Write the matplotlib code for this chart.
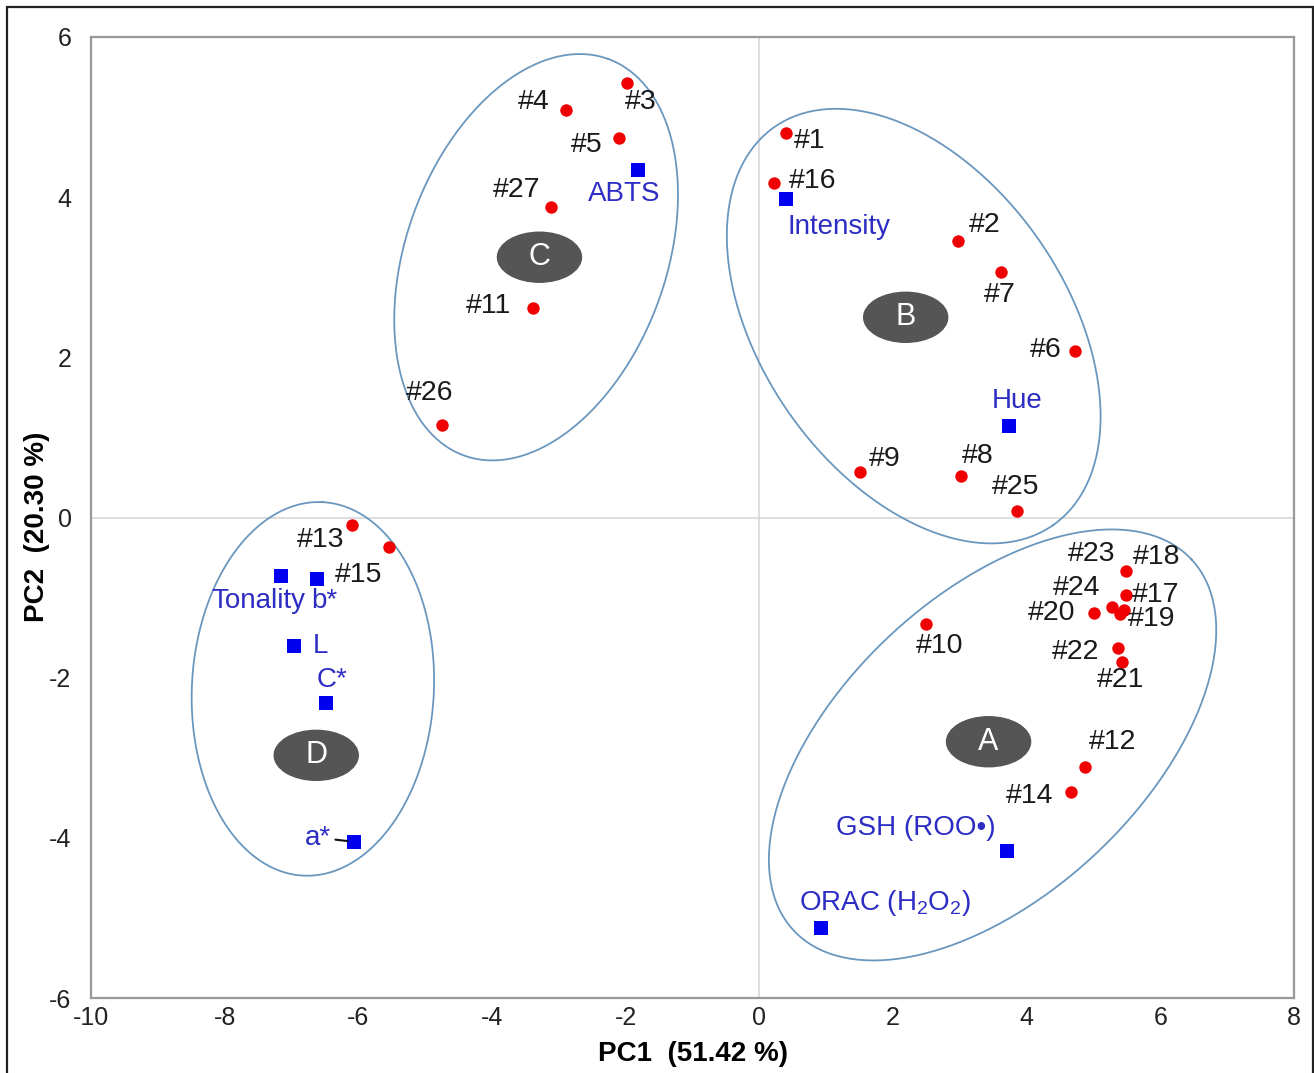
import numpy as np
import matplotlib
matplotlib.use("Agg")
import matplotlib.pyplot as plt
from matplotlib.patches import Ellipse, Rectangle

plt.rcParams['font.family'] = ['Liberation Sans', 'DejaVu Sans']
plt.rcParams['mathtext.fontset'] = 'custom'
plt.rcParams['mathtext.rm'] = 'Liberation Sans'
plt.rcParams['mathtext.it'] = 'Liberation Sans:italic'
plt.rcParams['axes.unicode_minus'] = False

# samples (red circles): PC1, PC2, label offset (points)
samples = ["#1", "#16", "#2", "#7", "#6", "#9", "#8", "#25",
           "#3", "#4", "#5", "#27", "#11", "#26",
           "#13", "#15",
           "#10", "#18", "#23", "#17", "#24", "#20", "#19", "#22", "#21", "#12", "#14"]
pc1 = [0.40, 0.22, 2.98, 3.62, 4.72, 1.50, 3.02, 3.85,
       -1.98, -2.90, -2.10, -3.11, -3.38, -4.75,
       -6.09, -5.54,
       2.49, 5.48, 5.45, 5.49, 5.27, 5.00, 5.39, 5.36, 5.42, 4.87, 4.67]
pc2 = [4.80, 4.18, 3.45, 3.07, 2.08, 0.57, 0.52, 0.08,
       5.43, 5.09, 4.74, 3.88, 2.62, 1.16,
       -0.09, -0.37,
       -1.33, -0.67, -1.15, -0.97, -1.12, -1.19, -1.20, -1.63, -1.80, -3.11, -3.43]
sample_off = [(17, -6), (28, 1), (19, 12), (-1, -17), (-21, 1), (18, 9), (12, 14), (-1, 17),
              (10, -14), (-23, 6), (-23, -5), (-25, 12), (-32, 1), (-9, 23),
              (-23, -11), (-22, -20),
              (10, -16), (22, 10), (-23, 40), (21, 0), (-25, 14), (-30, 0), (23, -4), (-30, -3), (-1, -13), (20, 18), (-30, -3)]

# variables (blue squares)
variables = ["ABTS", "Intensity", "Hue", "Tonality", "b*", "L", "C*", "a*",
             "GSH (ROO\u2022)", r"ORAC (H$_2$O$_2$)"]
var1 = [-1.81, 0.40, 3.74, -7.16, -6.62, -6.96, -6.48, -6.06, 3.71, 0.93]
var2 = [4.34, 3.98, 1.14, -0.73, -0.77, -1.60, -2.32, -4.05, -4.16, -5.13]
var_off = [(-10, -17), (38, -20), (6, 18), (-16, -18), (5, -16), (19, 0), (4, 17), (-26, 3),
           (-66, 16), (46, 18)]

# group ellipses: centre (data), semi-axes (px), screen angle
groups = ["A", "B", "C", "D"]
grp_center = [(3.49, -2.84), (2.31, 2.39), (-3.34, 3.25), (-6.68, -2.14)]
grp_axes = [(272, 150), (243, 152), (211, 130), (187, 121)]
grp_angle = [43, -55, 70, 87]
badge_pos = [(3.43, -2.80), (2.19, 2.50), (-3.29, 3.25), (-6.63, -2.97)]

W, H = 1314, 1073
fig = plt.figure(figsize=(W / 100, H / 100), dpi=100)
fig.patches.append(Rectangle((7 / W, -0.01), (1313 - 7) / W, 1 - 7 / H + 0.01,
                             transform=fig.transFigure, fill=False, ec='#222222', lw=1.6))
ax = fig.add_axes([91 / W, (H - 998) / H, (1294 - 91) / W, (998 - 37) / H])

ax.set_xlim(-10, 8)
ax.set_ylim(-6, 6)
ax.set_xticks(np.arange(-10, 9, 2))
ax.set_yticks(np.arange(-6, 7, 2))
ax.tick_params(length=0, labelsize=18, colors='#222222')
ax.tick_params(axis='y', pad=14)
ax.tick_params(axis='x', pad=6)
for s in ax.spines.values():
    s.set_color('#999999')
    s.set_linewidth(1.6)
ax.axhline(0, color='#d4d4d4', lw=1.1, zorder=0)
ax.axvline(0, color='#d4d4d4', lw=1.1, zorder=0)

ax.set_xlabel("PC1  (51.42 %)", fontsize=20, fontweight='bold', labelpad=8)
ax.set_ylabel("PC2  (20.30 %)", fontsize=20, fontweight='bold')
ax.yaxis.set_label_coords(-0.034, 0.49)

# ellipse outlines built in screen space
t = np.linspace(0, 2 * np.pi, 300)
inv = ax.transData.inverted()
for (cx, cy), (a, b), ang in zip(grp_center, grp_axes, grp_angle):
    c = ax.transData.transform((cx, cy))
    th = np.deg2rad(ang)
    px = c[0] + a * np.cos(t) * np.cos(th) - b * np.sin(t) * np.sin(th)
    py = c[1] + a * np.cos(t) * np.sin(th) + b * np.sin(t) * np.cos(th)
    d = inv.transform(np.column_stack([px, py]))
    ax.plot(d[:, 0], d[:, 1], color='#6a97be', lw=1.3, zorder=1)

for g, (bx, by) in zip(groups, badge_pos):
    ax.add_patch(Ellipse((bx, by), 84 / 66.8, 50 / 80.1, color='#555555', zorder=3))
    ax.text(bx, by, g, color='white', fontsize=22, ha='center', va='center', zorder=4)

ax.scatter(pc1, pc2, s=80, color='#f00000', zorder=5, linewidths=0)
ax.scatter(var1, var2, s=90, marker='s', color='#0000ee', zorder=5, linewidths=0)

for lab, x, y, off in zip(samples, pc1, pc2, sample_off):
    ax.annotate(lab, (x, y), xytext=off, textcoords='offset points',
                ha='center', va='center', fontsize=20.5, color='#1a1a1a', zorder=6)

for lab, x, y, off in zip(variables, var1, var2, var_off):
    kw = {}
    if lab == "a*":
        kw['arrowprops'] = dict(arrowstyle='-', color='#111111', lw=1.5, shrinkA=1, shrinkB=5)
    ax.annotate(lab, (x, y), xytext=off, textcoords='offset points',
                ha='center', va='center', fontsize=20, color='#2d2dc4', zorder=6, **kw)

fig.savefig("out.png", dpi=100)
